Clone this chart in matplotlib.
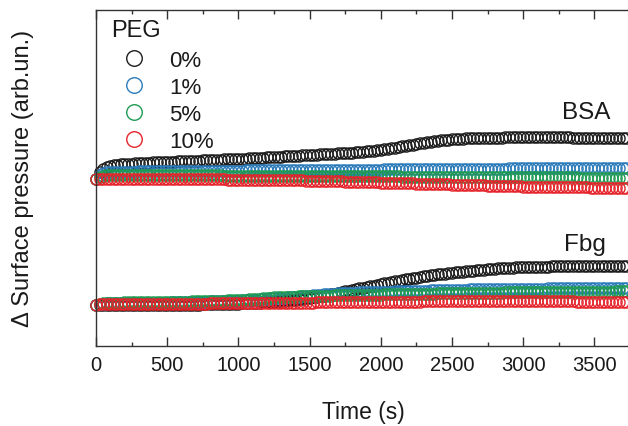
import numpy as np
import matplotlib
matplotlib.use("Agg")
import matplotlib.pyplot as plt
from matplotlib.ticker import MultipleLocator

plt.rcParams['font.family'] = ['Liberation Sans', 'DejaVu Sans']

# sampling grid of the measurement (s)
time_s = np.arange(0, 3750, 25)

peg_labels = ['0%', '1%', '5%', '10%']
colors = ['#1c1c1c', '#2b7bba', '#1f9a52', '#e5242b']

# delta surface pressure, arb. units, each curve starts at zero
bsa_0 = [0.00, 0.75, 1.05, 1.22, 1.32, 1.39, 1.44, 1.48, 1.51, 1.53,
         1.55, 1.57, 1.59, 1.61, 1.63, 1.64, 1.66, 1.67, 1.69, 1.70,
         1.72, 1.73, 1.75, 1.76, 1.78, 1.79, 1.81, 1.82, 1.84, 1.85,
         1.87, 1.88, 1.90, 1.91, 1.93, 1.94, 1.96, 1.97, 1.99, 2.00,
         2.02, 2.04, 2.05, 2.07, 2.09, 2.11, 2.12, 2.14, 2.16, 2.18,
         2.20, 2.22, 2.24, 2.26, 2.28, 2.30, 2.32, 2.34, 2.36, 2.38,
         2.40, 2.42, 2.44, 2.46, 2.48, 2.50, 2.52, 2.54, 2.56, 2.58,
         2.60, 2.62, 2.65, 2.68, 2.71, 2.74, 2.77, 2.80, 2.84, 2.88,
         2.92, 2.97, 3.02, 3.08, 3.14, 3.20, 3.26, 3.32, 3.38, 3.44,
         3.50, 3.56, 3.62, 3.67, 3.72, 3.77, 3.82, 3.86, 3.90, 3.94,
         3.97, 4.00, 4.03, 4.05, 4.07, 4.09, 4.10, 4.11, 4.12, 4.13,
         4.14, 4.14, 4.15, 4.15, 4.15, 4.16, 4.16, 4.16, 4.16, 4.16,
         4.16, 4.16, 4.16, 4.16, 4.16, 4.16, 4.16, 4.16, 4.16, 4.16,
         4.16, 4.16, 4.16, 4.16, 4.15, 4.15, 4.15, 4.15, 4.15, 4.15,
         4.15, 4.15, 4.15, 4.14, 4.14, 4.14, 4.14, 4.14, 4.14, 4.14]

bsa_1 = [0.00, 0.40, 0.58, 0.66, 0.70, 0.72, 0.73, 0.74, 0.74, 0.75,
         0.75, 0.75, 0.76, 0.76, 0.76, 0.77, 0.77, 0.77, 0.78, 0.78,
         0.78, 0.79, 0.79, 0.79, 0.80, 0.80, 0.80, 0.81, 0.81, 0.81,
         0.82, 0.82, 0.82, 0.83, 0.83, 0.83, 0.84, 0.84, 0.84, 0.85,
         0.85, 0.85, 0.86, 0.86, 0.86, 0.87, 0.87, 0.87, 0.87, 0.88,
         0.88, 0.88, 0.88, 0.89, 0.89, 0.89, 0.89, 0.90, 0.90, 0.90,
         0.90, 0.91, 0.91, 0.91, 0.91, 0.92, 0.92, 0.92, 0.92, 0.93,
         0.93, 0.93, 0.93, 0.94, 0.94, 0.94, 0.94, 0.95, 0.95, 0.95,
         0.95, 0.96, 0.96, 0.96, 0.96, 0.97, 0.97, 0.97, 0.98, 0.98,
         0.98, 0.98, 0.99, 0.99, 0.99, 0.99, 1.00, 1.00, 1.00, 1.01,
         1.01, 1.01, 1.01, 1.02, 1.02, 1.02, 1.03, 1.03, 1.03, 1.04,
         1.04, 1.04, 1.04, 1.05, 1.05, 1.05, 1.06, 1.06, 1.06, 1.06,
         1.07, 1.07, 1.07, 1.08, 1.08, 1.08, 1.08, 1.09, 1.09, 1.09,
         1.10, 1.10, 1.10, 1.10, 1.11, 1.11, 1.11, 1.12, 1.12, 1.12,
         1.12, 1.13, 1.13, 1.13, 1.14, 1.14, 1.14, 1.14, 1.15, 1.15]

bsa_5 = [0.00, 0.22, 0.32, 0.36, 0.38, 0.39, 0.40, 0.40, 0.40, 0.40,
         0.40, 0.40, 0.40, 0.40, 0.40, 0.39, 0.39, 0.39, 0.39, 0.39,
         0.39, 0.38, 0.38, 0.38, 0.38, 0.38, 0.37, 0.37, 0.37, 0.37,
         0.37, 0.36, 0.36, 0.36, 0.36, 0.36, 0.35, 0.35, 0.35, 0.35,
         0.35, 0.34, 0.34, 0.34, 0.34, 0.34, 0.33, 0.33, 0.33, 0.33,
         0.33, 0.32, 0.32, 0.32, 0.32, 0.32, 0.31, 0.31, 0.31, 0.31,
         0.31, 0.30, 0.30, 0.30, 0.30, 0.30, 0.29, 0.29, 0.29, 0.29,
         0.29, 0.28, 0.28, 0.28, 0.28, 0.28, 0.27, 0.27, 0.27, 0.27,
         0.27, 0.26, 0.26, 0.26, 0.26, 0.26, 0.25, 0.25, 0.25, 0.25,
         0.25, 0.24, 0.24, 0.24, 0.24, 0.24, 0.23, 0.23, 0.23, 0.23,
         0.23, 0.22, 0.22, 0.22, 0.22, 0.22, 0.21, 0.21, 0.21, 0.21,
         0.21, 0.20, 0.20, 0.20, 0.20, 0.20, 0.19, 0.19, 0.19, 0.19,
         0.19, 0.18, 0.18, 0.18, 0.18, 0.18, 0.17, 0.17, 0.17, 0.17,
         0.17, 0.16, 0.16, 0.16, 0.16, 0.16, 0.15, 0.15, 0.15, 0.15,
         0.15, 0.14, 0.14, 0.14, 0.14, 0.14, 0.13, 0.13, 0.13, 0.13]

bsa_10 = [0.00, 0.01, 0.02, 0.02, 0.02, 0.02, 0.02, 0.02, 0.02, 0.02,
          0.02, 0.02, 0.02, 0.01, 0.01, 0.01, 0.01, 0.01, 0.00, 0.00,
          0.00, 0.00, -0.01, -0.01, -0.01, -0.01, -0.02, -0.02, -0.02, -0.03,
          -0.03, -0.03, -0.03, -0.04, -0.04, -0.04, -0.04, -0.05, -0.05, -0.05,
          -0.05, -0.06, -0.06, -0.07, -0.07, -0.08, -0.08, -0.09, -0.09, -0.10,
          -0.10, -0.11, -0.11, -0.12, -0.12, -0.13, -0.13, -0.14, -0.14, -0.15,
          -0.15, -0.16, -0.17, -0.18, -0.19, -0.20, -0.21, -0.22, -0.23, -0.24,
          -0.25, -0.26, -0.27, -0.28, -0.29, -0.30, -0.31, -0.32, -0.33, -0.34,
          -0.35, -0.36, -0.37, -0.38, -0.39, -0.40, -0.41, -0.42, -0.43, -0.44,
          -0.45, -0.46, -0.47, -0.48, -0.49, -0.50, -0.51, -0.52, -0.53, -0.54,
          -0.55, -0.56, -0.57, -0.58, -0.59, -0.60, -0.61, -0.62, -0.63, -0.64,
          -0.65, -0.66, -0.67, -0.68, -0.69, -0.70, -0.71, -0.72, -0.73, -0.74,
          -0.75, -0.76, -0.76, -0.77, -0.77, -0.78, -0.78, -0.79, -0.79, -0.80,
          -0.80, -0.81, -0.81, -0.82, -0.82, -0.83, -0.83, -0.84, -0.84, -0.85,
          -0.85, -0.86, -0.86, -0.87, -0.87, -0.88, -0.88, -0.89, -0.89, -0.90]

fbg_0 = [0.00, -0.02, -0.03, -0.04, -0.05, -0.05, -0.06, -0.06, -0.06, -0.07,
         -0.07, -0.07, -0.07, -0.07, -0.06, -0.06, -0.06, -0.06, -0.05, -0.05,
         -0.05, -0.04, -0.04, -0.03, -0.03, -0.02, -0.02, -0.01, 0.00, 0.00,
         0.01, 0.02, 0.03, 0.03, 0.04, 0.05, 0.06, 0.07, 0.08, 0.09,
         0.10, 0.11, 0.13, 0.14, 0.16, 0.18, 0.20, 0.22, 0.24, 0.27,
         0.30, 0.33, 0.36, 0.39, 0.42, 0.45, 0.49, 0.53, 0.57, 0.61,
         0.65, 0.71, 0.77, 0.83, 0.89, 0.96, 1.03, 1.10, 1.17, 1.24,
         1.31, 1.38, 1.46, 1.53, 1.61, 1.68, 1.76, 1.83, 1.90, 1.97,
         2.05, 2.12, 2.18, 2.25, 2.32, 2.38, 2.45, 2.51, 2.57, 2.63,
         2.69, 2.75, 2.81, 2.86, 2.91, 2.96, 3.01, 3.05, 3.09, 3.13,
         3.17, 3.21, 3.25, 3.29, 3.33, 3.37, 3.40, 3.44, 3.47, 3.50,
         3.53, 3.56, 3.58, 3.61, 3.63, 3.65, 3.67, 3.69, 3.71, 3.73,
         3.74, 3.75, 3.76, 3.77, 3.78, 3.79, 3.79, 3.80, 3.81, 3.82,
         3.82, 3.83, 3.84, 3.84, 3.85, 3.85, 3.86, 3.86, 3.86, 3.87,
         3.87, 3.87, 3.88, 3.88, 3.88, 3.89, 3.89, 3.89, 3.90, 3.90]

fbg_1 = [0.00, 0.06, 0.10, 0.12, 0.13, 0.14, 0.15, 0.15, 0.16, 0.16,
         0.16, 0.17, 0.17, 0.17, 0.18, 0.18, 0.18, 0.19, 0.19, 0.20,
         0.20, 0.21, 0.22, 0.22, 0.23, 0.24, 0.25, 0.26, 0.27, 0.28,
         0.29, 0.30, 0.31, 0.32, 0.33, 0.34, 0.35, 0.36, 0.37, 0.38,
         0.40, 0.42, 0.44, 0.46, 0.48, 0.50, 0.52, 0.55, 0.58, 0.61,
         0.64, 0.66, 0.68, 0.70, 0.72, 0.74, 0.77, 0.80, 0.83, 0.86,
         0.89, 0.92, 0.95, 0.98, 1.01, 1.04, 1.07, 1.09, 1.11, 1.13,
         1.15, 1.17, 1.19, 1.20, 1.21, 1.22, 1.23, 1.24, 1.25, 1.26,
         1.27, 1.28, 1.29, 1.30, 1.31, 1.32, 1.33, 1.34, 1.35, 1.36,
         1.37, 1.38, 1.39, 1.40, 1.41, 1.42, 1.43, 1.44, 1.45, 1.46,
         1.47, 1.48, 1.49, 1.50, 1.50, 1.51, 1.51, 1.52, 1.52, 1.53,
         1.53, 1.54, 1.54, 1.55, 1.55, 1.56, 1.56, 1.57, 1.57, 1.58,
         1.58, 1.58, 1.59, 1.59, 1.60, 1.60, 1.60, 1.61, 1.61, 1.61,
         1.62, 1.62, 1.62, 1.63, 1.63, 1.63, 1.64, 1.64, 1.64, 1.65,
         1.65, 1.65, 1.65, 1.66, 1.66, 1.66, 1.66, 1.67, 1.67, 1.67]

fbg_5 = [0.00, 0.08, 0.13, 0.16, 0.18, 0.19, 0.20, 0.20, 0.21, 0.21,
         0.21, 0.22, 0.22, 0.22, 0.23, 0.23, 0.23, 0.24, 0.24, 0.25,
         0.25, 0.26, 0.27, 0.27, 0.28, 0.29, 0.30, 0.31, 0.32, 0.33,
         0.34, 0.35, 0.36, 0.37, 0.38, 0.39, 0.40, 0.41, 0.42, 0.43,
         0.45, 0.47, 0.49, 0.51, 0.53, 0.56, 0.59, 0.62, 0.65, 0.68,
         0.71, 0.73, 0.75, 0.77, 0.78, 0.79, 0.80, 0.81, 0.82, 0.83,
         0.84, 0.85, 0.86, 0.87, 0.88, 0.89, 0.90, 0.91, 0.92, 0.93,
         0.94, 0.95, 0.96, 0.97, 0.97, 0.98, 0.98, 0.99, 0.99, 1.00,
         1.00, 1.01, 1.01, 1.02, 1.03, 1.03, 1.04, 1.05, 1.05, 1.06,
         1.07, 1.07, 1.08, 1.09, 1.09, 1.10, 1.11, 1.11, 1.12, 1.13,
         1.13, 1.14, 1.14, 1.15, 1.15, 1.16, 1.16, 1.17, 1.17, 1.18,
         1.18, 1.19, 1.19, 1.20, 1.20, 1.21, 1.21, 1.22, 1.22, 1.22,
         1.23, 1.23, 1.24, 1.24, 1.24, 1.25, 1.25, 1.25, 1.26, 1.26,
         1.26, 1.27, 1.27, 1.27, 1.28, 1.28, 1.28, 1.28, 1.29, 1.29,
         1.29, 1.29, 1.30, 1.30, 1.30, 1.30, 1.31, 1.31, 1.31, 1.31]

fbg_10 = [0.00, 0.01, 0.02, 0.02, 0.03, 0.03, 0.03, 0.04, 0.04, 0.04,
          0.04, 0.05, 0.05, 0.05, 0.05, 0.06, 0.06, 0.06, 0.06, 0.07,
          0.07, 0.07, 0.07, 0.08, 0.08, 0.08, 0.09, 0.09, 0.09, 0.10,
          0.10, 0.10, 0.11, 0.11, 0.11, 0.12, 0.12, 0.12, 0.13, 0.13,
          0.13, 0.14, 0.14, 0.14, 0.15, 0.15, 0.15, 0.16, 0.16, 0.16,
          0.17, 0.17, 0.17, 0.18, 0.18, 0.18, 0.19, 0.19, 0.19, 0.20,
          0.20, 0.20, 0.21, 0.21, 0.21, 0.22, 0.22, 0.22, 0.23, 0.23,
          0.23, 0.24, 0.24, 0.24, 0.25, 0.25, 0.25, 0.26, 0.26, 0.26,
          0.27, 0.27, 0.27, 0.28, 0.28, 0.28, 0.29, 0.29, 0.29, 0.30,
          0.30, 0.30, 0.31, 0.31, 0.31, 0.32, 0.32, 0.32, 0.33, 0.33,
          0.33, 0.33, 0.34, 0.34, 0.34, 0.34, 0.34, 0.35, 0.35, 0.35,
          0.35, 0.35, 0.35, 0.35, 0.35, 0.35, 0.35, 0.35, 0.34, 0.34,
          0.34, 0.34, 0.34, 0.33, 0.33, 0.33, 0.33, 0.32, 0.32, 0.32,
          0.32, 0.31, 0.31, 0.31, 0.31, 0.30, 0.30, 0.30, 0.30, 0.29,
          0.29, 0.29, 0.29, 0.28, 0.28, 0.28, 0.28, 0.27, 0.27, 0.27]

bsa_offset = 12.55

bsa_series = [bsa_0, bsa_1, bsa_5, bsa_10]
fbg_series = [fbg_0, fbg_1, fbg_5, fbg_10]

fig = plt.figure(figsize=(6.28, 4.27), dpi=100)
ax = fig.add_axes([96 / 628, 1 - 346.7 / 427, 532 / 628, 336.2 / 427])

mk = dict(marker='o', ms=8.0, mfc='none', mew=1.0, ls='none', clip_on=False)
handles = []
for vals, c in zip(fbg_series, colors):
    h, = ax.plot(time_s, vals, mec=c, **mk)
    handles.append(h)
for vals, c in zip(bsa_series, colors):
    ax.plot(time_s, np.array(vals) + bsa_offset, mec=c, **mk)

ax.set_xlim(0, 3736)
ax.set_ylim(-4.12, 29.5)

ax.xaxis.set_major_locator(MultipleLocator(500))
ax.xaxis.set_minor_locator(MultipleLocator(250))
ax.set_yticks([])
ax.tick_params(axis='x', which='both', direction='in', top=True, bottom=True,
               width=1.0, color='#333333', labelsize=14.5, pad=7,
               labelcolor='#1a1a1a')
ax.tick_params(axis='x', which='major', length=6.5)
ax.tick_params(axis='x', which='minor', length=3.2)
for s in ['left', 'bottom', 'top']:
    ax.spines[s].set_color('#333333')
    ax.spines[s].set_linewidth(1.0)
ax.spines['right'].set_visible(False)

fig.text(363 / 628, 1 - 413 / 427, 'Time (s)', fontsize=16.5,
         ha='center', va='center', color='#1a1a1a')
fig.text(23 / 628, 1 - 178 / 427, 'Δ Surface pressure (arb.un.)', fontsize=17,
         rotation=90, ha='center', va='center', color='#1a1a1a')

fig.text(586 / 628, 1 - 113 / 427, 'BSA', fontsize=17.5, ha='center', va='center',
         color='#1a1a1a')
fig.text(585 / 628, 1 - 245 / 427, 'Fbg', fontsize=17.5, ha='center', va='center',
         color='#1a1a1a')

fig.text(111 / 628, 1 - 31 / 427, 'PEG', fontsize=17, ha='left', va='center',
         color='#1a1a1a')
fig.legend(handles, peg_labels, loc='upper left',
           bbox_to_anchor=(121 / 628, 1 - 51 / 427), frameon=False,
           fontsize=16, markerscale=1.4, handlelength=1.2, handletextpad=0.95,
           labelspacing=0.27, borderpad=0, borderaxespad=0, numpoints=1,
           labelcolor='#1a1a1a')

fig.savefig('out.png', dpi=100)
